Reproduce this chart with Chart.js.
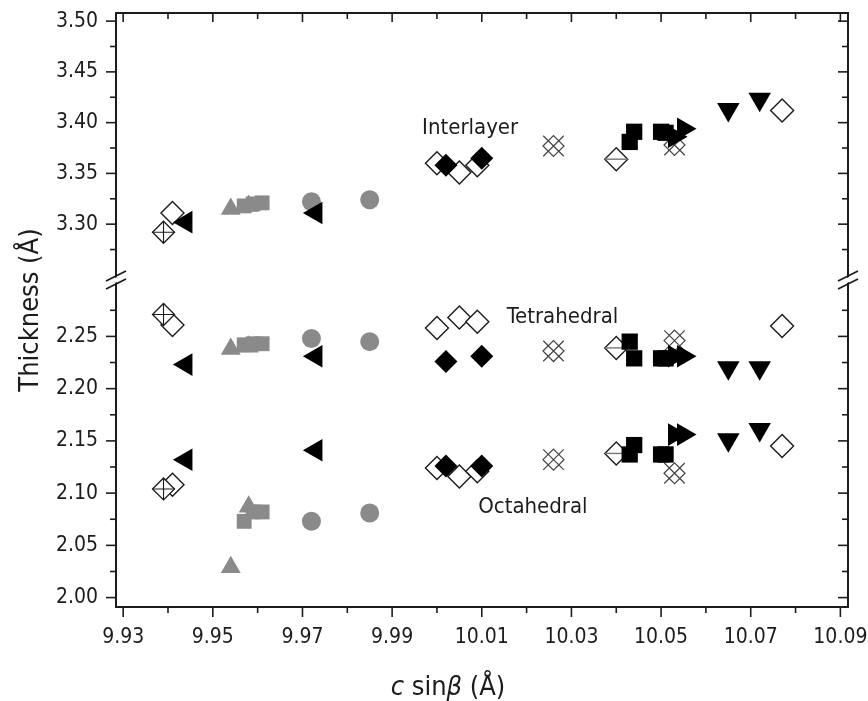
<!DOCTYPE html>
<html>
<head>
<meta charset="utf-8">
<script src="https://cdn.jsdelivr.net/npm/chart.js@4.4.1/dist/chart.umd.min.js"></script>
<style>
  html, body { margin: 0; padding: 0; background: #fff; }
  #wrap { width: 868px; height: 701px; }
</style>
</head>
<body>
<div id="wrap"><canvas id="chart" width="868" height="701"></canvas></div>
<script>
// c·sinβ (Å) and layer thicknesses (Å): interlayer, tetrahedral, octahedral
const crossDiamondX     = [9.939];
const crossDiamondInter = [3.292];
const crossDiamondTetra = [2.271];
const crossDiamondOcta  = [2.104];

const openDiamondX     = [9.941, 10.000, 10.005, 10.009, 10.077];
const openDiamondInter = [3.311, 3.360, 3.351, 3.358, 3.412];
const openDiamondTetra = [2.261, 2.258, 2.268, 2.264, 2.260];
const openDiamondOcta  = [2.108, 2.124, 2.116, 2.121, 2.145];

const leftTriX     = [9.944, 9.973];
const leftTriInter = [3.302, 3.311];
const leftTriTetra = [2.223, 2.231];
const leftTriOcta  = [2.132, 2.141];

const grayTriX     = [9.954, 9.958];
const grayTriInter = [3.315, 3.318];
const grayTriTetra = [2.238, 2.240];
const grayTriOcta  = [2.029, 2.087];

const graySqX     = [9.957, 9.959, 9.961];
const graySqInter = [3.318, 3.320, 3.321];
const graySqTetra = [2.242, 2.243, 2.243];
const graySqOcta  = [2.073, 2.082, 2.082];

const grayCircX     = [9.972, 9.985];
const grayCircInter = [3.322, 3.324];
const grayCircTetra = [2.248, 2.245];
const grayCircOcta  = [2.073, 2.081];

const filledDiamondX     = [10.002, 10.010];
const filledDiamondInter = [3.358, 3.365];
const filledDiamondTetra = [2.226, 2.231];
const filledDiamondOcta  = [2.126, 2.126];

const xDiamondX     = [10.026, 10.053];
const xDiamondInter = [3.377, 3.378];
const xDiamondTetra = [2.236, 2.246];
const xDiamondOcta  = [2.132, 2.119];

const barDiamondX     = [10.040];
const barDiamondInter = [3.364];
const barDiamondTetra = [2.239];
const barDiamondOcta  = [2.138];

const blackSqX     = [10.043, 10.044, 10.050, 10.051];
const blackSqInter = [3.381, 3.391, 3.391, 3.390];
const blackSqTetra = [2.245, 2.229, 2.229, 2.229];
const blackSqOcta  = [2.137, 2.146, 2.137, 2.137];

const rightTriX     = [10.053, 10.055];
const rightTriInter = [3.386, 3.394];
const rightTriTetra = [2.231, 2.231];
const rightTriOcta  = [2.156, 2.156];

const downTriX     = [10.065, 10.072];
const downTriInter = [3.413, 3.423];
const downTriTetra = [2.220, 2.220];
const downTriOcta  = [2.151, 2.161];

// axis ticks
const xTicks = [9.93, 9.95, 9.97, 9.99, 10.01, 10.03, 10.05, 10.07, 10.09];
const interTicks = [3.30, 3.35, 3.40, 3.45, 3.50];
const layerTicks = [2.00, 2.05, 2.10, 2.15, 2.20, 2.25];

// in-plot layer names and where they sit (data units)
const layerNames  = ['Interlayer', 'Tetrahedral', 'Octahedral'];
const layerNameX  = [10.0074, 10.0280, 10.0214];
const layerNameY  = [3.394, 2.268, 2.086];
const layerNameAxis = ['yTop', 'yBot', 'yBot'];

const FONT = "'DejaVu Sans Condensed', 'Liberation Sans Narrow', 'DejaVu Sans', sans-serif";
const INK = '#1c1c1c';
const GRAY = '#8a8a8a';

function pts(xs, ys) { return xs.map((x, i) => ({ x, y: ys[i] })); }

// one series drawn in both panels: interlayer on the top axis, tetra+octa on the bottom axis
function series(xs, inter, tetra, octa, style) {
  return [
    Object.assign({ data: pts(xs, inter), yAxisID: 'yTop' }, style),
    Object.assign({ data: pts(xs, tetra).concat(pts(xs, octa)), yAxisID: 'yBot' }, style)
  ];
}

function mk(pointStyle, radius, fill, stroke, width, order, rotation) {
  return {
    pointStyle, pointRadius: radius, pointBackgroundColor: fill,
    pointBorderColor: stroke, pointBorderWidth: width, pointRotation: rotation || 0,
    order, showLine: false
  };
}

const datasets = [].concat(
  series(openDiamondX, openDiamondInter, openDiamondTetra, openDiamondOcta, mk('rectRot', 11.5, '#fff', INK, 1.4, 12)),
  series(grayCircX, grayCircInter, grayCircTetra, grayCircOcta, mk('circle', 9.5, GRAY, GRAY, 0, 10)),
  series(graySqX, graySqInter, graySqTetra, graySqOcta, mk('rect', 10.5, GRAY, GRAY, 0, 10)),
  series(grayTriX, grayTriInter, grayTriTetra, grayTriOcta, mk('triangle', 11.5, GRAY, GRAY, 0, 9)),
  series(crossDiamondX, crossDiamondInter, crossDiamondTetra, crossDiamondOcta, mk('rectRot', 11, '#fff', INK, 1.3, 8)),
  series(crossDiamondX, crossDiamondInter, crossDiamondTetra, crossDiamondOcta, mk('cross', 11, INK, INK, 1.1, 7)),
  series(barDiamondX, barDiamondInter, barDiamondTetra, barDiamondOcta, mk('rectRot', 11.5, '#fff', INK, 1.4, 8)),
  series(barDiamondX, barDiamondInter, barDiamondTetra, barDiamondOcta, mk('line', 11.5, '#777', '#777', 1.4, 7)),
  series(xDiamondX, xDiamondInter, xDiamondTetra, xDiamondOcta, mk('rectRot', 10.5, 'rgba(255,255,255,0)', '#444', 1.2, 8)),
  series(xDiamondX, xDiamondInter, xDiamondTetra, xDiamondOcta, mk('crossRot', 14.5, '#444', '#444', 1.2, 7)),
  series(filledDiamondX, filledDiamondInter, filledDiamondTetra, filledDiamondOcta, mk('rectRot', 11.5, '#000', '#000', 0, 5)),
  series(leftTriX, leftTriInter, leftTriTetra, leftTriOcta, mk('triangle', 13, '#000', '#000', 0, 5, -90)),
  series(blackSqX, blackSqInter, blackSqTetra, blackSqOcta, mk('rect', 11.5, '#000', '#000', 0, 5)),
  series(rightTriX, rightTriInter, rightTriTetra, rightTriOcta, mk('triangle', 13, '#000', '#000', 0, 4, 90)),
  series(downTriX, downTriInter, downTriTetra, downTriOcta, mk('triangle', 13, '#000', '#000', 0, 5, 180))
);

// frame, inward/outward tick marks, axis break, titles and layer names
const decorations = {
  id: 'decorations',
  afterDraw(chart) {
    const { ctx, chartArea: a, scales } = chart;
    const x = scales.x, yT = scales.yTop, yB = scales.yBot;
    ctx.save();
    ctx.strokeStyle = INK;
    ctx.lineWidth = 2;
    ctx.strokeRect(a.left, a.top, a.right - a.left, a.bottom - a.top);

    ctx.lineWidth = 1.6;
    const line = (x1, y1, x2, y2) => { ctx.beginPath(); ctx.moveTo(x1, y1); ctx.lineTo(x2, y2); ctx.stroke(); };

    // x ticks: out at the bottom, in at the top
    const xStep = xTicks[1] - xTicks[0];
    xTicks.forEach((v, i) => {
      const px = x.getPixelForValue(v);
      line(px, a.bottom, px, a.bottom + 10);
      line(px, a.top, px, a.top + 9);
      if (i < xTicks.length - 1) {
        const pm = x.getPixelForValue(v + xStep / 2);
        line(pm, a.bottom, pm, a.bottom + 6);
        line(pm, a.top, pm, a.top + 6);
      }
    });

    // y ticks: out on the left, in on the right
    const yTicksFor = (scale, majors) => {
      const step = majors[1] - majors[0];
      const minors = majors.map(v => v + step / 2).concat([majors[0] - step / 2])
        .filter(v => v > scale.min && v < scale.max);
      majors.forEach(v => {
        const py = scale.getPixelForValue(v);
        line(a.left - 10, py, a.left, py);
        line(a.right - 10, py, a.right, py);
      });
      minors.forEach(v => {
        const py = scale.getPixelForValue(v);
        line(a.left - 6, py, a.left, py);
        line(a.right - 6, py, a.right, py);
      });
    };
    yTicksFor(yT, interTicks);
    yTicksFor(yB, layerTicks);

    // axis break marks
    const by = yT.bottom;
    [a.left, a.right].forEach(ax => {
      ctx.fillStyle = '#fff';
      ctx.beginPath();
      ctx.moveTo(ax - 9, by + 2);
      ctx.lineTo(ax + 9, by - 7);
      ctx.lineTo(ax + 9, by - 2);
      ctx.lineTo(ax - 9, by + 7);
      ctx.closePath();
      ctx.fill();
      ctx.lineWidth = 1.8;
      line(ax - 10, by + 1, ax + 10, by - 9);
      line(ax - 10, by + 9, ax + 10, by - 1);
    });

    // layer names
    ctx.fillStyle = INK;
    ctx.textAlign = 'center';
    ctx.textBaseline = 'middle';
    ctx.font = '22px ' + FONT;
    layerNames.forEach((name, i) => {
      ctx.fillText(name, x.getPixelForValue(layerNameX[i]), scales[layerNameAxis[i]].getPixelForValue(layerNameY[i]));
    });

    // y title
    ctx.save();
    ctx.translate(31, 310);
    ctx.rotate(-Math.PI / 2);
    ctx.font = '27px ' + FONT;
    ctx.fillText('Thickness (Å)', 0, 0);
    ctx.restore();

    // x title with italic c and β
    const parts = [['c', 'italic '], [' sin', ''], ['β', 'italic '], [' (Å)', '']];
    const size = 27;
    let total = 0;
    parts.forEach(p => { ctx.font = p[1] + size + 'px ' + FONT; total += ctx.measureText(p[0]).width; });
    let cx = 448 - total / 2;
    ctx.textAlign = 'left';
    ctx.textBaseline = 'alphabetic';
    parts.forEach(p => {
      ctx.font = p[1] + size + 'px ' + FONT;
      ctx.fillText(p[0], cx, 695);
      cx += ctx.measureText(p[0]).width;
    });
    ctx.restore();
  }
};

const tickFont = { family: FONT, size: 21 };
const fixedTicks = list => scale => { scale.ticks = list.map(v => ({ value: v })); };
// the frame is drawn by the plugin, so label overhang must not shrink the plot area
const fitX = s => { s.height = 94; s.paddingLeft = 0; s.paddingRight = 0; };
const fitY = s => { s.width = 116; s.paddingTop = 0; s.paddingBottom = 0; };

new Chart(document.getElementById('chart'), {
  type: 'scatter',
  data: { datasets },
  options: {
    responsive: false,
    animation: false,
    devicePixelRatio: 1,
    events: [],
    layout: { autoPadding: false, padding: { top: 13, right: 20, bottom: 0, left: 0 } },
    plugins: { legend: { display: false }, tooltip: { enabled: false } },
    scales: {
      x: {
        type: 'linear', position: 'bottom', min: 9.9284, max: 10.0917,
        grid: { display: false, drawTicks: false }, border: { display: false },
        afterBuildTicks: fixedTicks(xTicks),
        ticks: { font: tickFont, color: INK, padding: 18, maxRotation: 0, autoSkip: false,
                 callback: v => v.toFixed(2) },
        afterFit: fitX
      },
      yBot: {
        type: 'linear', position: 'left', stack: 'thk', stackWeight: 327,
        min: 1.991, max: 2.304,
        grid: { display: false, drawTicks: false }, border: { display: false },
        afterBuildTicks: fixedTicks(layerTicks),
        ticks: { font: tickFont, color: INK, padding: 18, callback: v => v.toFixed(2) },
        afterFit: fitY
      },
      yTop: {
        type: 'linear', position: 'left', stack: 'thk', stackWeight: 267,
        min: 3.245, max: 3.508,
        grid: { display: false, drawTicks: false }, border: { display: false },
        afterBuildTicks: fixedTicks(interTicks),
        ticks: { font: tickFont, color: INK, padding: 18, callback: v => v.toFixed(2) },
        afterFit: fitY
      }
    }
  },
  plugins: [decorations]
});
</script>
</body>
</html>
